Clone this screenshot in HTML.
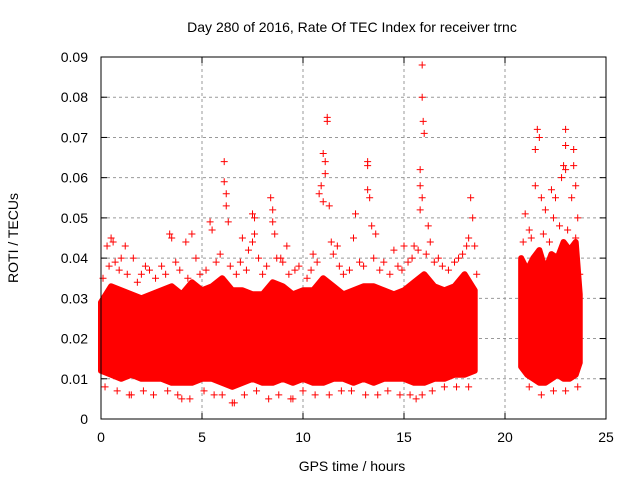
<!DOCTYPE html>
<html><head><meta charset="utf-8"><style>
body{margin:0;background:#fff}
svg text{font-family:"Liberation Sans","DejaVu Sans",sans-serif;font-size:14px;fill:#000}
</style></head><body>
<svg id="c" width="640" height="480">
<text x="352" y="32" text-anchor="middle">Day 280 of 2016, Rate Of TEC Index for receiver trnc</text>
<text x="352" y="471" text-anchor="middle">GPS time / hours</text>
<text transform="translate(18,238) rotate(-90)" text-anchor="middle">ROTI / TECUs</text>
<g id="grid"></g>
<g id="ticks"></g>
<g id="marks"></g>
<rect x="101" y="57" width="505" height="362" fill="none" stroke="#000"/>
</svg>
<script>
const xTicks=[0,5,10,15,20,25];
const yTicks=[0,0.01,0.02,0.03,0.04,0.05,0.06,0.07,0.08,0.09];
const yTickLabels=["0","0.01","0.02","0.03","0.04","0.05","0.06","0.07","0.08","0.09"];
const band1Hours=[0,0.5,1,1.5,2,2.5,3,3.5,4,4.5,5,5.5,6,6.5,7,7.5,8,8.5,9,9.5,10,10.5,11,11.5,12,12.5,13,13.5,14,14.5,15,15.5,16,16.5,17,17.5,18,18.5];
const band1High=[0.029,0.033,0.032,0.031,0.030,0.031,0.032,0.033,0.031,0.034,0.032,0.033,0.035,0.032,0.032,0.031,0.031,0.034,0.033,0.031,0.032,0.032,0.035,0.033,0.031,0.032,0.033,0.033,0.032,0.031,0.032,0.034,0.036,0.033,0.032,0.033,0.036,0.032];
const band1Low=[0.012,0.011,0.010,0.011,0.010,0.010,0.010,0.009,0.009,0.009,0.010,0.010,0.009,0.008,0.009,0.010,0.009,0.009,0.010,0.009,0.010,0.009,0.009,0.010,0.010,0.009,0.010,0.009,0.010,0.010,0.010,0.009,0.009,0.010,0.010,0.011,0.011,0.012];
const band2Hours=[20.8,21.1,21.4,21.7,22.0,22.3,22.6,22.9,23.2,23.5,23.7];
const band2High=[0.040,0.037,0.040,0.042,0.037,0.041,0.040,0.044,0.042,0.044,0.031];
const band2Low=[0.013,0.011,0.010,0.009,0.009,0.010,0.011,0.010,0.010,0.011,0.014];
const ptHours=[0.3,0.5,0.6,1,1.2,1.6,2.2,3.4,3.5,4.2,4.5,5.4,5.5,6.1,6.1,6.2,6.2,6.3,7.0,7.3,7.5,7.6,7.6,7.5,8.4,8.5,8.5,8.6,8.9,9.2,10.5,10.8,10.9,11,11.1,11.1,11.2,11.2,11.0,11.3,11.4,11.7,12.5,12.6,13.2,13.2,13.2,13.3,13.4,13.6,14.5,15.0,15.5,15.9,15.9,15.95,16,15.8,15.8,15.9,15.8,16.2,16.3,16.7,17.7,18.3,18.4,18.2,18.5,21.0,21.2,21.5,21.6,21.7,21.5,21.8,22.0,22.3,22.4,22.5,22.9,23.0,23.0,23.0,22.8,23.4,23.4,23.5,23.3,23.6,23.5,4.0,6.5,15.6,1.5,9.5];
const ptValues=[0.043,0.045,0.044,0.040,0.043,0.040,0.038,0.046,0.045,0.044,0.046,0.049,0.047,0.064,0.059,0.056,0.053,0.049,0.045,0.042,0.051,0.050,0.046,0.044,0.055,0.052,0.049,0.046,0.040,0.043,0.041,0.056,0.058,0.066,0.064,0.061,0.075,0.074,0.054,0.053,0.044,0.043,0.045,0.051,0.064,0.063,0.057,0.055,0.048,0.046,0.042,0.043,0.043,0.088,0.080,0.074,0.071,0.062,0.058,0.055,0.052,0.048,0.044,0.040,0.040,0.055,0.050,0.045,0.043,0.051,0.047,0.067,0.072,0.070,0.058,0.055,0.052,0.057,0.050,0.055,0.063,0.072,0.068,0.062,0.060,0.067,0.063,0.058,0.055,0.050,0.045,0.005,0.004,0.005,0.006,0.005];
const fringeHours=[0.1,0.4,0.7,0.9,1.3,1.8,2.0,2.4,2.7,3.0,3.2,3.7,3.9,4.3,4.7,4.9,5.2,5.7,5.9,6.4,6.7,6.9,7.2,7.8,8.0,8.2,8.7,9.0,9.3,9.6,9.8,10.2,10.4,10.7,11.5,11.8,12.0,12.3,12.8,13.0,13.5,13.8,14.0,14.3,14.7,14.9,15.2,15.4,15.7,16.1,16.5,16.9,17.2,17.5,17.9,18.1,18.6,20.9,21.3,21.9,22.2,22.7,23.1,23.7,0.2,0.8,1.4,2.1,2.6,3.3,3.8,4.4,5.1,5.6,6.0,6.6,7.1,7.7,8.3,8.8,9.4,10.0,10.6,11.3,11.9,12.4,13.1,13.7,14.2,14.8,15.3,15.9,16.4,17.0,17.6,18.2,21.2,21.8,22.4,23.0,23.6];
const fringeValues=[0.035,0.038,0.039,0.037,0.036,0.034,0.036,0.037,0.035,0.038,0.036,0.039,0.037,0.035,0.040,0.036,0.037,0.039,0.041,0.038,0.036,0.039,0.037,0.040,0.036,0.038,0.040,0.039,0.036,0.037,0.038,0.035,0.037,0.039,0.041,0.038,0.036,0.037,0.039,0.038,0.040,0.037,0.039,0.036,0.038,0.037,0.039,0.040,0.042,0.041,0.039,0.038,0.037,0.039,0.041,0.043,0.036,0.044,0.045,0.046,0.044,0.048,0.047,0.036,0.008,0.007,0.006,0.007,0.006,0.007,0.006,0.005,0.007,0.006,0.006,0.004,0.006,0.007,0.005,0.006,0.005,0.007,0.006,0.006,0.007,0.007,0.006,0.006,0.007,0.006,0.006,0.006,0.007,0.008,0.008,0.008,0.008,0.006,0.007,0.007,0.008];
const X=h=>101+h*505/25, Y=v=>419-v*362/0.09;
const NS="http://www.w3.org/2000/svg";
const g=document.getElementById('grid'),t=document.getElementById('ticks'),m=document.getElementById('marks');
function mk(tag,a,p){const e=document.createElementNS(NS,tag);for(const k in a)e.setAttribute(k,a[k]);p.appendChild(e);return e;}
xTicks.forEach(h=>{const x=X(h);
 if(h>0&&h<25){const l=mk('line',{x1:x,x2:x,y1:57,y2:419,stroke:'#999','stroke-dasharray':'3,3'},g);
 
 }
 mk('line',{x1:x,x2:x,y1:419,y2:413,stroke:'#000'},t);mk('line',{x1:x,x2:x,y1:57,y2:63,stroke:'#000'},t);
 const tx=mk('text',{x:x,y:442,'text-anchor':'middle'},t);tx.textContent=h;
 
 });
yTicks.forEach((v,i)=>{const y=Y(v);
 if(i>0&&i<yTicks.length-1){const l=mk('line',{x1:101,x2:606,y1:y,y2:y,stroke:'#999','stroke-dasharray':'3,3'},g);
 
 }
 mk('line',{x1:101,x2:107,y1:y,y2:y,stroke:'#000'},t);mk('line',{x1:606,x2:600,y1:y,y2:y,stroke:'#000'},t);
 const tx=mk('text',{x:88,y:y+5,'text-anchor':'end'},t);tx.textContent=yTickLabels[i];
 
 });
function band(hs,hi,lo,name){let d='';hs.forEach((h,i)=>d+=(i?'L':'M')+X(h)+','+Y(hi[i]));
 for(let i=hs.length-1;i>=0;i--)d+='L'+X(hs[i])+','+Y(lo[i]);d+='Z';
 const p=mk('path',{d:d,fill:'#f00',stroke:'#f00','stroke-width':6,'stroke-linejoin':'round'},m);
 
 }
band(band1Hours,band1High,band1Low,'roti-band-main');
band(band2Hours,band2High,band2Low,'roti-band-late');
function cross(h,v,name){const x=X(h),y=Y(v);
 const p=mk('path',{d:`M${x-3.5},${y}h7M${x},${y-3.5}v7`,stroke:'#f00','stroke-width':1},m);
 
 }
fringeHours.forEach((h,i)=>{const x=X(h),y=Y(fringeValues[i]);
 const p=mk('path',{d:`M${x-3.5},${y}h7M${x},${y-3.5}v7`,stroke:'#f00','stroke-width':1},m);
 
 });
ptHours.forEach((h,i)=>{const x=X(h),y=Y(ptValues[i]);
 const p=mk('path',{d:`M${x-3.5},${y}h7M${x},${y-3.5}v7`,stroke:'#f00','stroke-width':1},m);
 
 });
</script>
</body></html>
